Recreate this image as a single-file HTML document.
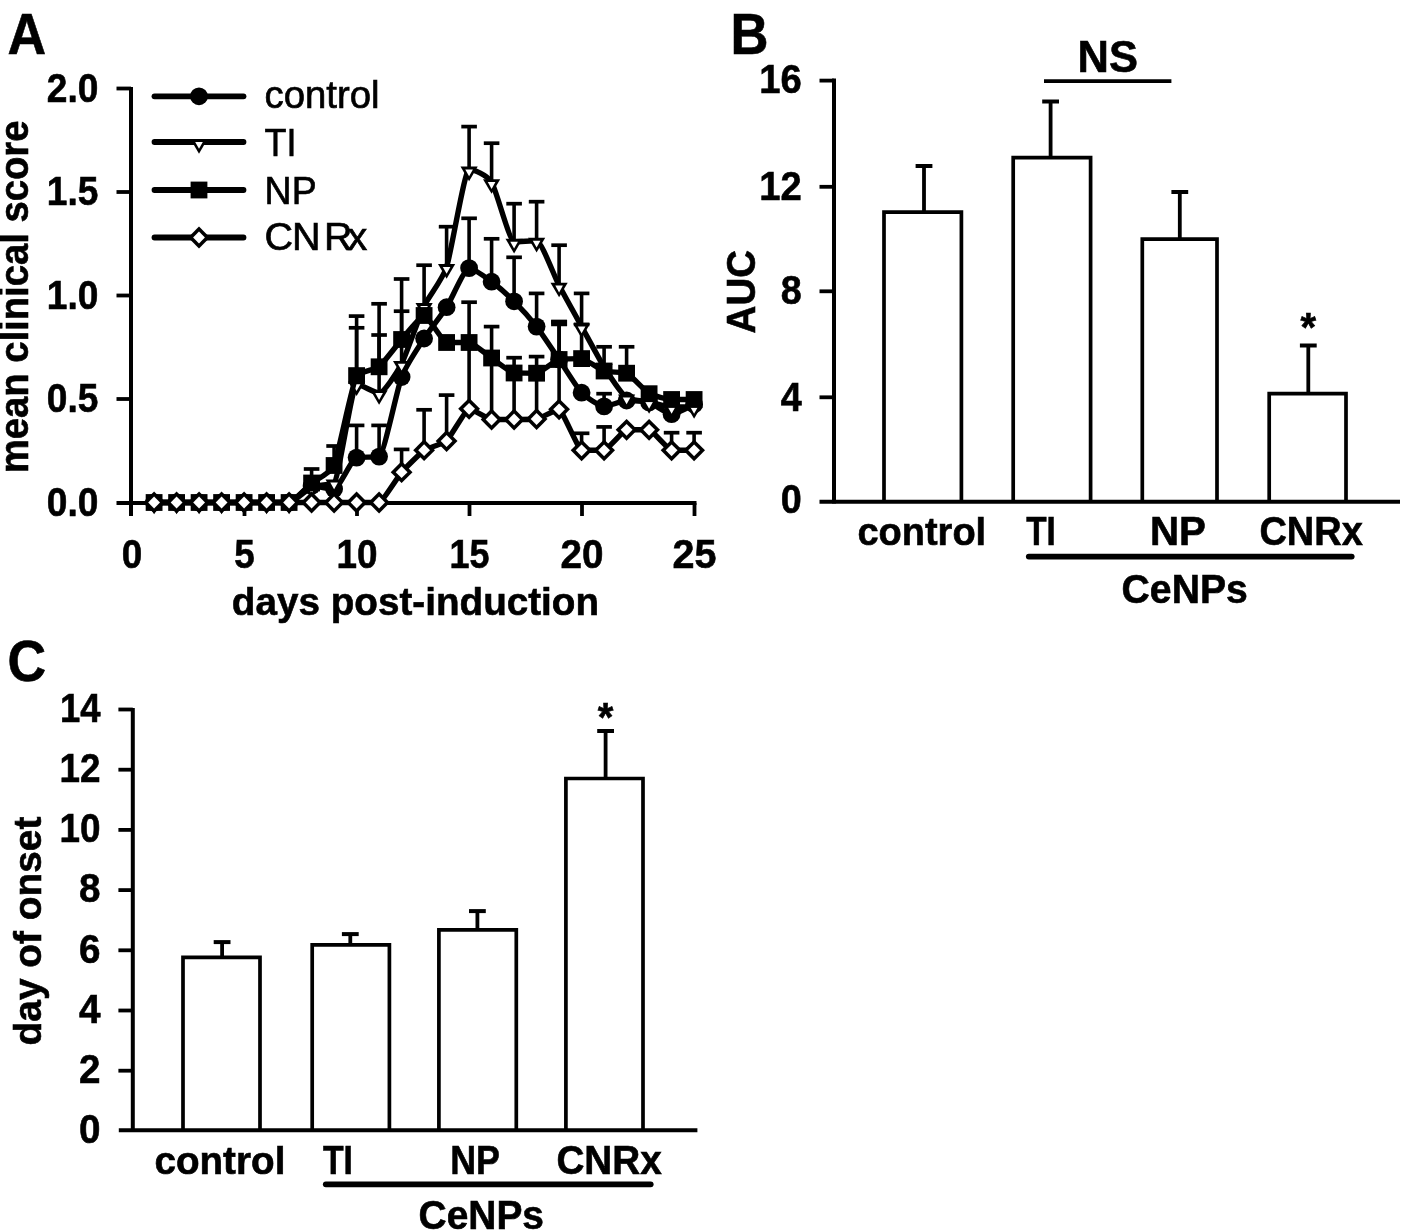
<!DOCTYPE html>
<html><head><meta charset="utf-8"><title>Figure</title>
<style>
html,body{margin:0;padding:0;background:#fff;}
body{width:1402px;height:1230px;overflow:hidden;font-family:'Liberation Sans', sans-serif;}
svg{display:block;font-family:"Liberation Sans",sans-serif;}
svg text{fill:#000;}
</style></head>
<body>
<svg width="1402" height="1230" viewBox="0 0 1402 1230">
<defs><filter id="soft" x="-2%" y="-2%" width="104%" height="104%"><feGaussianBlur stdDeviation="0.55"/></filter></defs>
<rect x="0" y="0" width="1402" height="1230" fill="#fff"/>
<g filter="url(#soft)">
<text x="7.6" y="54.0" font-size="57.5" text-anchor="start" font-weight="bold" stroke="#000" stroke-width="0.6" textLength="38.6" lengthAdjust="spacingAndGlyphs" >A</text>
<text x="730.6" y="54.0" font-size="57.5" text-anchor="start" font-weight="bold" stroke="#000" stroke-width="0.6" textLength="38.0" lengthAdjust="spacingAndGlyphs" >B</text>
<text x="7.6" y="681.3" font-size="56.5" text-anchor="start" font-weight="bold" stroke="#000" stroke-width="0.6" textLength="38.6" lengthAdjust="spacingAndGlyphs" >C</text>
<line x1="131.0" y1="87.0" x2="131.0" y2="516.0" stroke="#000" stroke-width="4" stroke-linecap="butt"/>
<line x1="116.5" y1="503.0" x2="696.5" y2="503.0" stroke="#000" stroke-width="4" stroke-linecap="butt"/>
<line x1="116.5" y1="399.0" x2="131.0" y2="399.0" stroke="#000" stroke-width="3.8" stroke-linecap="butt"/>
<line x1="116.5" y1="295.5" x2="131.0" y2="295.5" stroke="#000" stroke-width="3.8" stroke-linecap="butt"/>
<line x1="116.5" y1="192.0" x2="131.0" y2="192.0" stroke="#000" stroke-width="3.8" stroke-linecap="butt"/>
<line x1="116.5" y1="88.5" x2="131.0" y2="88.5" stroke="#000" stroke-width="3.8" stroke-linecap="butt"/>
<line x1="244.5" y1="503.0" x2="244.5" y2="516.0" stroke="#000" stroke-width="3.8" stroke-linecap="butt"/>
<line x1="357.0" y1="503.0" x2="357.0" y2="516.0" stroke="#000" stroke-width="3.8" stroke-linecap="butt"/>
<line x1="469.5" y1="503.0" x2="469.5" y2="516.0" stroke="#000" stroke-width="3.8" stroke-linecap="butt"/>
<line x1="582.0" y1="503.0" x2="582.0" y2="516.0" stroke="#000" stroke-width="3.8" stroke-linecap="butt"/>
<line x1="694.5" y1="503.0" x2="694.5" y2="516.0" stroke="#000" stroke-width="3.8" stroke-linecap="butt"/>
<text x="46.8" y="515.5" font-size="40.5" text-anchor="start" font-weight="bold" stroke="#000" stroke-width="0.6" textLength="51.6" lengthAdjust="spacingAndGlyphs" >0.0</text>
<text x="46.8" y="412.0" font-size="40.5" text-anchor="start" font-weight="bold" stroke="#000" stroke-width="0.6" textLength="51.6" lengthAdjust="spacingAndGlyphs" >0.5</text>
<text x="46.8" y="308.5" font-size="40.5" text-anchor="start" font-weight="bold" stroke="#000" stroke-width="0.6" textLength="51.6" lengthAdjust="spacingAndGlyphs" >1.0</text>
<text x="46.8" y="205.0" font-size="40.5" text-anchor="start" font-weight="bold" stroke="#000" stroke-width="0.6" textLength="51.6" lengthAdjust="spacingAndGlyphs" >1.5</text>
<text x="46.8" y="101.5" font-size="40.5" text-anchor="start" font-weight="bold" stroke="#000" stroke-width="0.6" textLength="51.6" lengthAdjust="spacingAndGlyphs" >2.0</text>
<text x="121.8" y="567.7" font-size="40.5" text-anchor="start" font-weight="bold" stroke="#000" stroke-width="0.6" textLength="20.5" lengthAdjust="spacingAndGlyphs" >0</text>
<text x="234.2" y="567.7" font-size="40.5" text-anchor="start" font-weight="bold" stroke="#000" stroke-width="0.6" textLength="20.5" lengthAdjust="spacingAndGlyphs" >5</text>
<text x="336.4" y="567.7" font-size="40.5" text-anchor="start" font-weight="bold" stroke="#000" stroke-width="0.6" textLength="41.0" lengthAdjust="spacingAndGlyphs" >10</text>
<text x="449.4" y="567.7" font-size="40.5" text-anchor="start" font-weight="bold" stroke="#000" stroke-width="0.6" textLength="40.0" lengthAdjust="spacingAndGlyphs" >15</text>
<text x="560.4" y="567.7" font-size="40.5" text-anchor="start" font-weight="bold" stroke="#000" stroke-width="0.6" textLength="43.0" lengthAdjust="spacingAndGlyphs" >20</text>
<text x="672.4" y="567.7" font-size="40.5" text-anchor="start" font-weight="bold" stroke="#000" stroke-width="0.6" textLength="44.0" lengthAdjust="spacingAndGlyphs" >25</text>
<text x="231.8" y="615.2" font-size="39.5" text-anchor="start" font-weight="bold" stroke="#000" stroke-width="0.6" textLength="367.3" lengthAdjust="spacingAndGlyphs" >days post-induction</text>
<text x="28.5" y="473.2" font-size="40" text-anchor="start" font-weight="bold" stroke="#000" stroke-width="0.6" textLength="352.6" lengthAdjust="spacingAndGlyphs" transform="rotate(-90 28.5 473.2)" >mean clinical score</text>
<line x1="154.5" y1="96.3" x2="243.5" y2="96.3" stroke="#000" stroke-width="5.8" stroke-linecap="round"/>
<circle cx="199.0" cy="96.3" r="8.9" fill="#000"/>
<text x="264.6" y="108.3" font-size="39.5" text-anchor="start" textLength="115.0" lengthAdjust="spacingAndGlyphs" stroke="#000" stroke-width="0.7">control</text>
<line x1="154.5" y1="142.0" x2="243.5" y2="142.0" stroke="#000" stroke-width="5.8" stroke-linecap="round"/>
<path d="M190.4 139.1 L207.6 139.1 L199.0 153.7 Z" fill="#000"/>
<path d="M195.2 142.0 L202.8 142.0 L199.0 148.8 Z" fill="#fff"/>
<text x="264.6" y="155.8" font-size="39.5" text-anchor="start" textLength="32.0" lengthAdjust="spacingAndGlyphs" stroke="#000" stroke-width="0.7">TI</text>
<line x1="154.5" y1="190.0" x2="243.5" y2="190.0" stroke="#000" stroke-width="5.8" stroke-linecap="round"/>
<rect x="190.6" y="181.6" width="16.8" height="16.8" fill="#000"/>
<text x="264.6" y="203.9" font-size="39.5" text-anchor="start" textLength="52.0" lengthAdjust="spacingAndGlyphs" stroke="#000" stroke-width="0.7">NP</text>
<line x1="154.5" y1="237.5" x2="243.5" y2="237.5" stroke="#000" stroke-width="5.8" stroke-linecap="round"/>
<path d="M188.1 237.5 L199.0 226.6 L209.9 237.5 L199.0 248.4 Z" fill="#000"/>
<path d="M193.1 237.5 L199.0 231.6 L204.9 237.5 L199.0 243.4 Z" fill="#fff"/>
<text x="264.4 292.0 324.0 347.4" y="249.6" font-size="39.5" stroke="#000" stroke-width="0.7">CNRx</text>
<line x1="356.6" y1="384.3" x2="356.6" y2="316.1" stroke="#000" stroke-width="3.6" stroke-linecap="butt"/>
<line x1="348.8" y1="316.1" x2="364.4" y2="316.1" stroke="#000" stroke-width="3.7" stroke-linecap="butt"/>
<line x1="379.1" y1="393.1" x2="379.1" y2="303.8" stroke="#000" stroke-width="3.6" stroke-linecap="butt"/>
<line x1="371.3" y1="303.8" x2="386.9" y2="303.8" stroke="#000" stroke-width="3.7" stroke-linecap="butt"/>
<line x1="401.6" y1="363.8" x2="401.6" y2="279.0" stroke="#000" stroke-width="3.6" stroke-linecap="butt"/>
<line x1="393.8" y1="279.0" x2="409.4" y2="279.0" stroke="#000" stroke-width="3.7" stroke-linecap="butt"/>
<line x1="424.1" y1="306.0" x2="424.1" y2="265.2" stroke="#000" stroke-width="3.6" stroke-linecap="butt"/>
<line x1="416.3" y1="265.2" x2="431.9" y2="265.2" stroke="#000" stroke-width="3.7" stroke-linecap="butt"/>
<line x1="446.6" y1="267.0" x2="446.6" y2="226.7" stroke="#000" stroke-width="3.6" stroke-linecap="butt"/>
<line x1="438.8" y1="226.7" x2="454.4" y2="226.7" stroke="#000" stroke-width="3.7" stroke-linecap="butt"/>
<line x1="469.1" y1="169.5" x2="469.1" y2="126.6" stroke="#000" stroke-width="3.6" stroke-linecap="butt"/>
<line x1="461.3" y1="126.6" x2="476.9" y2="126.6" stroke="#000" stroke-width="3.7" stroke-linecap="butt"/>
<line x1="491.6" y1="182.1" x2="491.6" y2="143.2" stroke="#000" stroke-width="3.6" stroke-linecap="butt"/>
<line x1="483.8" y1="143.2" x2="499.4" y2="143.2" stroke="#000" stroke-width="3.7" stroke-linecap="butt"/>
<line x1="514.1" y1="241.7" x2="514.1" y2="203.7" stroke="#000" stroke-width="3.6" stroke-linecap="butt"/>
<line x1="506.3" y1="203.7" x2="521.9" y2="203.7" stroke="#000" stroke-width="3.7" stroke-linecap="butt"/>
<line x1="536.6" y1="240.7" x2="536.6" y2="201.7" stroke="#000" stroke-width="3.6" stroke-linecap="butt"/>
<line x1="528.8" y1="201.7" x2="544.4" y2="201.7" stroke="#000" stroke-width="3.7" stroke-linecap="butt"/>
<line x1="559.1" y1="285.6" x2="559.1" y2="245.2" stroke="#000" stroke-width="3.6" stroke-linecap="butt"/>
<line x1="551.3" y1="245.2" x2="566.9" y2="245.2" stroke="#000" stroke-width="3.7" stroke-linecap="butt"/>
<line x1="581.6" y1="326.5" x2="581.6" y2="293.4" stroke="#000" stroke-width="3.6" stroke-linecap="butt"/>
<line x1="573.8" y1="293.4" x2="589.4" y2="293.4" stroke="#000" stroke-width="3.7" stroke-linecap="butt"/>
<line x1="356.6" y1="457.6" x2="356.6" y2="425.4" stroke="#000" stroke-width="3.6" stroke-linecap="butt"/>
<line x1="348.8" y1="425.4" x2="364.4" y2="425.4" stroke="#000" stroke-width="3.7" stroke-linecap="butt"/>
<line x1="379.1" y1="456.6" x2="379.1" y2="425.4" stroke="#000" stroke-width="3.6" stroke-linecap="butt"/>
<line x1="371.3" y1="425.4" x2="386.9" y2="425.4" stroke="#000" stroke-width="3.7" stroke-linecap="butt"/>
<line x1="469.1" y1="268.1" x2="469.1" y2="218.3" stroke="#000" stroke-width="3.6" stroke-linecap="butt"/>
<line x1="461.3" y1="218.3" x2="476.9" y2="218.3" stroke="#000" stroke-width="3.7" stroke-linecap="butt"/>
<line x1="491.6" y1="281.7" x2="491.6" y2="238.8" stroke="#000" stroke-width="3.6" stroke-linecap="butt"/>
<line x1="483.8" y1="238.8" x2="499.4" y2="238.8" stroke="#000" stroke-width="3.7" stroke-linecap="butt"/>
<line x1="514.1" y1="301.3" x2="514.1" y2="257.3" stroke="#000" stroke-width="3.6" stroke-linecap="butt"/>
<line x1="506.3" y1="257.3" x2="521.9" y2="257.3" stroke="#000" stroke-width="3.7" stroke-linecap="butt"/>
<line x1="536.6" y1="326.6" x2="536.6" y2="293.4" stroke="#000" stroke-width="3.6" stroke-linecap="butt"/>
<line x1="528.8" y1="293.4" x2="544.4" y2="293.4" stroke="#000" stroke-width="3.7" stroke-linecap="butt"/>
<line x1="559.1" y1="359.5" x2="559.1" y2="321.7" stroke="#000" stroke-width="3.6" stroke-linecap="butt"/>
<line x1="551.3" y1="321.7" x2="566.9" y2="321.7" stroke="#000" stroke-width="3.7" stroke-linecap="butt"/>
<line x1="604.1" y1="406.4" x2="604.1" y2="393.7" stroke="#000" stroke-width="3.6" stroke-linecap="butt"/>
<line x1="596.3" y1="393.7" x2="611.9" y2="393.7" stroke="#000" stroke-width="3.7" stroke-linecap="butt"/>
<line x1="311.6" y1="483.0" x2="311.6" y2="469.0" stroke="#000" stroke-width="3.6" stroke-linecap="butt"/>
<line x1="303.8" y1="469.0" x2="319.4" y2="469.0" stroke="#000" stroke-width="3.7" stroke-linecap="butt"/>
<line x1="334.1" y1="465.5" x2="334.1" y2="446.0" stroke="#000" stroke-width="3.6" stroke-linecap="butt"/>
<line x1="326.3" y1="446.0" x2="341.9" y2="446.0" stroke="#000" stroke-width="3.7" stroke-linecap="butt"/>
<line x1="356.6" y1="375.6" x2="356.6" y2="327.8" stroke="#000" stroke-width="3.6" stroke-linecap="butt"/>
<line x1="348.8" y1="327.8" x2="364.4" y2="327.8" stroke="#000" stroke-width="3.7" stroke-linecap="butt"/>
<line x1="379.1" y1="366.8" x2="379.1" y2="335.0" stroke="#000" stroke-width="3.6" stroke-linecap="butt"/>
<line x1="371.3" y1="335.0" x2="386.9" y2="335.0" stroke="#000" stroke-width="3.7" stroke-linecap="butt"/>
<line x1="401.6" y1="339.5" x2="401.6" y2="311.2" stroke="#000" stroke-width="3.6" stroke-linecap="butt"/>
<line x1="393.8" y1="311.2" x2="409.4" y2="311.2" stroke="#000" stroke-width="3.7" stroke-linecap="butt"/>
<line x1="469.1" y1="342.5" x2="469.1" y2="302.2" stroke="#000" stroke-width="3.6" stroke-linecap="butt"/>
<line x1="461.3" y1="302.2" x2="476.9" y2="302.2" stroke="#000" stroke-width="3.7" stroke-linecap="butt"/>
<line x1="491.6" y1="358.0" x2="491.6" y2="326.6" stroke="#000" stroke-width="3.6" stroke-linecap="butt"/>
<line x1="483.8" y1="326.6" x2="499.4" y2="326.6" stroke="#000" stroke-width="3.7" stroke-linecap="butt"/>
<line x1="514.1" y1="373.0" x2="514.1" y2="357.7" stroke="#000" stroke-width="3.6" stroke-linecap="butt"/>
<line x1="506.3" y1="357.7" x2="521.9" y2="357.7" stroke="#000" stroke-width="3.7" stroke-linecap="butt"/>
<line x1="536.6" y1="373.2" x2="536.6" y2="356.6" stroke="#000" stroke-width="3.6" stroke-linecap="butt"/>
<line x1="528.8" y1="356.6" x2="544.4" y2="356.6" stroke="#000" stroke-width="3.7" stroke-linecap="butt"/>
<line x1="559.1" y1="359.5" x2="559.1" y2="322.4" stroke="#000" stroke-width="3.6" stroke-linecap="butt"/>
<line x1="551.3" y1="322.4" x2="566.9" y2="322.4" stroke="#000" stroke-width="3.7" stroke-linecap="butt"/>
<line x1="581.6" y1="358.6" x2="581.6" y2="324.4" stroke="#000" stroke-width="3.6" stroke-linecap="butt"/>
<line x1="573.8" y1="324.4" x2="589.4" y2="324.4" stroke="#000" stroke-width="3.7" stroke-linecap="butt"/>
<line x1="604.1" y1="371.0" x2="604.1" y2="346.8" stroke="#000" stroke-width="3.6" stroke-linecap="butt"/>
<line x1="596.3" y1="346.8" x2="611.9" y2="346.8" stroke="#000" stroke-width="3.7" stroke-linecap="butt"/>
<line x1="626.6" y1="373.2" x2="626.6" y2="346.8" stroke="#000" stroke-width="3.6" stroke-linecap="butt"/>
<line x1="618.8" y1="346.8" x2="634.4" y2="346.8" stroke="#000" stroke-width="3.7" stroke-linecap="butt"/>
<line x1="401.6" y1="472.2" x2="401.6" y2="449.4" stroke="#000" stroke-width="3.6" stroke-linecap="butt"/>
<line x1="393.8" y1="449.4" x2="409.4" y2="449.4" stroke="#000" stroke-width="3.7" stroke-linecap="butt"/>
<line x1="424.1" y1="450.2" x2="424.1" y2="409.8" stroke="#000" stroke-width="3.6" stroke-linecap="butt"/>
<line x1="416.3" y1="409.8" x2="431.9" y2="409.8" stroke="#000" stroke-width="3.7" stroke-linecap="butt"/>
<line x1="446.6" y1="441.0" x2="446.6" y2="395.1" stroke="#000" stroke-width="3.6" stroke-linecap="butt"/>
<line x1="438.8" y1="395.1" x2="454.4" y2="395.1" stroke="#000" stroke-width="3.7" stroke-linecap="butt"/>
<line x1="469.1" y1="408.8" x2="469.1" y2="345.0" stroke="#000" stroke-width="3.6" stroke-linecap="butt"/>
<line x1="491.6" y1="419.5" x2="491.6" y2="360.0" stroke="#000" stroke-width="3.6" stroke-linecap="butt"/>
<line x1="514.1" y1="419.5" x2="514.1" y2="375.0" stroke="#000" stroke-width="3.6" stroke-linecap="butt"/>
<line x1="536.6" y1="419.0" x2="536.6" y2="375.0" stroke="#000" stroke-width="3.6" stroke-linecap="butt"/>
<line x1="559.1" y1="409.3" x2="559.1" y2="360.0" stroke="#000" stroke-width="3.6" stroke-linecap="butt"/>
<line x1="581.6" y1="450.3" x2="581.6" y2="433.3" stroke="#000" stroke-width="3.6" stroke-linecap="butt"/>
<line x1="573.8" y1="433.3" x2="589.4" y2="433.3" stroke="#000" stroke-width="3.7" stroke-linecap="butt"/>
<line x1="604.1" y1="450.3" x2="604.1" y2="426.9" stroke="#000" stroke-width="3.6" stroke-linecap="butt"/>
<line x1="596.3" y1="426.9" x2="611.9" y2="426.9" stroke="#000" stroke-width="3.7" stroke-linecap="butt"/>
<line x1="671.6" y1="450.3" x2="671.6" y2="432.7" stroke="#000" stroke-width="3.6" stroke-linecap="butt"/>
<line x1="663.8" y1="432.7" x2="679.4" y2="432.7" stroke="#000" stroke-width="3.7" stroke-linecap="butt"/>
<line x1="694.1" y1="450.3" x2="694.1" y2="432.7" stroke="#000" stroke-width="3.6" stroke-linecap="butt"/>
<line x1="686.3" y1="432.7" x2="701.9" y2="432.7" stroke="#000" stroke-width="3.7" stroke-linecap="butt"/>
<line x1="551.1" y1="323.0" x2="567.1" y2="323.0" stroke="#000" stroke-width="6.5" stroke-linecap="butt"/>
<path d="M154.1 502.5 C156.3 502.5 172.1 502.5 176.6 502.5 C181.1 502.5 194.6 502.5 199.1 502.5 C203.6 502.5 217.1 502.5 221.6 502.5 C226.1 502.5 239.6 502.5 244.1 502.5 C248.6 502.5 262.1 502.5 266.6 502.5 C271.1 502.5 284.6 502.5 289.1 502.5 C293.6 502.5 307.1 486.0 311.6 486.0 C316.1 486.0 329.6 489.0 334.1 489.0 C338.6 489.0 352.1 458.2 356.6 457.6 C361.1 457.0 374.6 457.2 379.1 456.6 C383.6 456.0 397.1 388.8 401.6 377.0 C406.1 365.2 419.6 345.5 424.1 338.5 C428.6 331.5 442.1 314.2 446.6 307.2 C451.1 300.2 464.6 268.1 469.1 268.1 C473.6 268.1 487.1 278.4 491.6 281.7 C496.1 285.0 509.6 296.8 514.1 301.3 C518.6 305.8 532.1 320.8 536.6 326.6 C541.1 332.4 554.6 352.9 559.1 359.5 C563.6 366.1 577.1 388.0 581.6 392.7 C586.1 397.4 599.6 406.4 604.1 406.4 C608.6 406.4 622.1 400.5 626.6 400.5 C631.1 400.5 644.6 401.3 649.1 402.5 C653.6 403.7 667.1 414.2 671.6 414.2 C676.1 414.2 691.9 405.4 694.1 404.4" fill="none" stroke="#000" stroke-width="5.4" stroke-linejoin="round" stroke-linecap="round"/>
<circle cx="154.1" cy="502.5" r="8.9" fill="#000"/>
<circle cx="176.6" cy="502.5" r="8.9" fill="#000"/>
<circle cx="199.1" cy="502.5" r="8.9" fill="#000"/>
<circle cx="221.6" cy="502.5" r="8.9" fill="#000"/>
<circle cx="244.1" cy="502.5" r="8.9" fill="#000"/>
<circle cx="266.6" cy="502.5" r="8.9" fill="#000"/>
<circle cx="289.1" cy="502.5" r="8.9" fill="#000"/>
<circle cx="311.6" cy="486.0" r="8.9" fill="#000"/>
<circle cx="334.1" cy="489.0" r="8.9" fill="#000"/>
<circle cx="356.6" cy="457.6" r="8.9" fill="#000"/>
<circle cx="379.1" cy="456.6" r="8.9" fill="#000"/>
<circle cx="401.6" cy="377.0" r="8.9" fill="#000"/>
<circle cx="424.1" cy="338.5" r="8.9" fill="#000"/>
<circle cx="446.6" cy="307.2" r="8.9" fill="#000"/>
<circle cx="469.1" cy="268.1" r="8.9" fill="#000"/>
<circle cx="491.6" cy="281.7" r="8.9" fill="#000"/>
<circle cx="514.1" cy="301.3" r="8.9" fill="#000"/>
<circle cx="536.6" cy="326.6" r="8.9" fill="#000"/>
<circle cx="559.1" cy="359.5" r="8.9" fill="#000"/>
<circle cx="581.6" cy="392.7" r="8.9" fill="#000"/>
<circle cx="604.1" cy="406.4" r="8.9" fill="#000"/>
<circle cx="626.6" cy="400.5" r="8.9" fill="#000"/>
<circle cx="649.1" cy="402.5" r="8.9" fill="#000"/>
<circle cx="671.6" cy="414.2" r="8.9" fill="#000"/>
<circle cx="694.1" cy="404.4" r="8.9" fill="#000"/>
<path d="M154.1 502.5 C156.3 502.5 172.1 502.5 176.6 502.5 C181.1 502.5 194.6 502.5 199.1 502.5 C203.6 502.5 217.1 502.5 221.6 502.5 C226.1 502.5 239.6 502.5 244.1 502.5 C248.6 502.5 262.1 502.5 266.6 502.5 C271.1 502.5 284.6 502.5 289.1 502.5 C293.6 502.5 307.1 489.0 311.6 487.0 C316.1 485.0 329.6 485.2 334.1 482.5 C338.6 479.8 352.1 384.3 356.6 384.3 C361.1 384.3 374.6 393.1 379.1 393.1 C383.6 393.1 397.1 372.5 401.6 363.8 C406.1 355.1 419.6 315.7 424.1 306.0 C428.6 296.3 442.1 280.6 446.6 267.0 C451.1 253.3 464.6 169.5 469.1 169.5 C473.6 169.5 487.1 174.9 491.6 182.1 C496.1 189.3 509.6 241.7 514.1 241.7 C518.6 241.7 532.1 240.7 536.6 240.7 C541.1 240.7 554.6 277.0 559.1 285.6 C563.6 294.2 577.1 318.4 581.6 326.5 C586.1 334.6 599.6 359.9 604.1 367.0 C608.6 374.1 622.1 394.8 626.6 397.5 C631.1 400.2 644.6 401.1 649.1 402.0 C653.6 402.9 667.1 407.0 671.6 407.0 C676.1 407.0 691.9 407.0 694.1 407.0" fill="none" stroke="#000" stroke-width="5.4" stroke-linejoin="round" stroke-linecap="round"/>
<path d="M145.5 499.6 L162.7 499.6 L154.1 514.2 Z" fill="#000"/>
<path d="M150.3 502.5 L157.9 502.5 L154.1 509.3 Z" fill="#fff"/>
<path d="M168.0 499.6 L185.2 499.6 L176.6 514.2 Z" fill="#000"/>
<path d="M172.8 502.5 L180.4 502.5 L176.6 509.3 Z" fill="#fff"/>
<path d="M190.5 499.6 L207.7 499.6 L199.1 514.2 Z" fill="#000"/>
<path d="M195.3 502.5 L202.9 502.5 L199.1 509.3 Z" fill="#fff"/>
<path d="M213.0 499.6 L230.2 499.6 L221.6 514.2 Z" fill="#000"/>
<path d="M217.8 502.5 L225.4 502.5 L221.6 509.3 Z" fill="#fff"/>
<path d="M235.5 499.6 L252.7 499.6 L244.1 514.2 Z" fill="#000"/>
<path d="M240.3 502.5 L247.9 502.5 L244.1 509.3 Z" fill="#fff"/>
<path d="M258.0 499.6 L275.2 499.6 L266.6 514.2 Z" fill="#000"/>
<path d="M262.8 502.5 L270.4 502.5 L266.6 509.3 Z" fill="#fff"/>
<path d="M280.5 499.6 L297.7 499.6 L289.1 514.2 Z" fill="#000"/>
<path d="M285.3 502.5 L292.9 502.5 L289.1 509.3 Z" fill="#fff"/>
<path d="M303.0 484.1 L320.2 484.1 L311.6 498.7 Z" fill="#000"/>
<path d="M307.8 487.0 L315.4 487.0 L311.6 493.8 Z" fill="#fff"/>
<path d="M325.5 479.6 L342.7 479.6 L334.1 494.2 Z" fill="#000"/>
<path d="M330.3 482.5 L337.9 482.5 L334.1 489.3 Z" fill="#fff"/>
<path d="M348.0 381.4 L365.2 381.4 L356.6 396.0 Z" fill="#000"/>
<path d="M352.8 384.3 L360.4 384.3 L356.6 391.1 Z" fill="#fff"/>
<path d="M370.5 390.2 L387.7 390.2 L379.1 404.8 Z" fill="#000"/>
<path d="M375.3 393.1 L382.9 393.1 L379.1 399.9 Z" fill="#fff"/>
<path d="M393.0 360.9 L410.2 360.9 L401.6 375.5 Z" fill="#000"/>
<path d="M397.8 363.8 L405.4 363.8 L401.6 370.6 Z" fill="#fff"/>
<path d="M415.5 303.1 L432.7 303.1 L424.1 317.7 Z" fill="#000"/>
<path d="M420.3 306.0 L427.9 306.0 L424.1 312.8 Z" fill="#fff"/>
<path d="M438.0 264.1 L455.2 264.1 L446.6 278.7 Z" fill="#000"/>
<path d="M442.8 267.0 L450.4 267.0 L446.6 273.8 Z" fill="#fff"/>
<path d="M460.5 166.6 L477.7 166.6 L469.1 181.2 Z" fill="#000"/>
<path d="M465.3 169.5 L472.9 169.5 L469.1 176.3 Z" fill="#fff"/>
<path d="M483.0 179.2 L500.2 179.2 L491.6 193.8 Z" fill="#000"/>
<path d="M487.8 182.1 L495.4 182.1 L491.6 188.9 Z" fill="#fff"/>
<path d="M505.5 238.8 L522.7 238.8 L514.1 253.4 Z" fill="#000"/>
<path d="M510.3 241.7 L517.9 241.7 L514.1 248.5 Z" fill="#fff"/>
<path d="M528.0 237.8 L545.2 237.8 L536.6 252.4 Z" fill="#000"/>
<path d="M532.8 240.7 L540.4 240.7 L536.6 247.5 Z" fill="#fff"/>
<path d="M550.5 282.7 L567.7 282.7 L559.1 297.3 Z" fill="#000"/>
<path d="M555.3 285.6 L562.9 285.6 L559.1 292.4 Z" fill="#fff"/>
<path d="M573.0 323.6 L590.2 323.6 L581.6 338.2 Z" fill="#000"/>
<path d="M577.8 326.5 L585.4 326.5 L581.6 333.3 Z" fill="#fff"/>
<path d="M595.5 364.1 L612.7 364.1 L604.1 378.7 Z" fill="#000"/>
<path d="M600.3 367.0 L607.9 367.0 L604.1 373.8 Z" fill="#fff"/>
<path d="M618.0 394.6 L635.2 394.6 L626.6 409.2 Z" fill="#000"/>
<path d="M622.8 397.5 L630.4 397.5 L626.6 404.3 Z" fill="#fff"/>
<path d="M640.5 399.1 L657.7 399.1 L649.1 413.7 Z" fill="#000"/>
<path d="M645.3 402.0 L652.9 402.0 L649.1 408.8 Z" fill="#fff"/>
<path d="M663.0 404.1 L680.2 404.1 L671.6 418.7 Z" fill="#000"/>
<path d="M667.8 407.0 L675.4 407.0 L671.6 413.8 Z" fill="#fff"/>
<path d="M685.5 404.1 L702.7 404.1 L694.1 418.7 Z" fill="#000"/>
<path d="M690.3 407.0 L697.9 407.0 L694.1 413.8 Z" fill="#fff"/>
<path d="M154.1 502.5 C155.8 502.5 173.3 502.5 176.6 502.5 C179.9 502.5 195.8 502.5 199.1 502.5 C202.4 502.5 218.3 502.5 221.6 502.5 C224.9 502.5 240.8 502.5 244.1 502.5 C247.4 502.5 263.3 502.5 266.6 502.5 C269.9 502.5 285.8 502.5 289.1 502.5 C292.4 502.5 308.3 485.7 311.6 483.0 C314.9 480.3 330.8 473.2 334.1 465.5 C337.4 457.8 353.3 379.5 356.6 375.6 C359.9 371.7 375.8 369.4 379.1 366.8 C382.4 364.2 398.3 343.3 401.6 339.5 C404.9 335.7 420.8 315.5 424.1 315.5 C427.4 315.5 443.3 342.5 446.6 342.5 C449.9 342.5 465.8 342.5 469.1 342.5 C472.4 342.5 488.3 355.8 491.6 358.0 C494.9 360.2 510.8 372.9 514.1 373.0 C517.4 373.1 533.3 373.2 536.6 373.2 C539.9 373.2 555.8 359.9 559.1 359.5 C562.4 359.1 578.3 358.6 581.6 358.6 C584.9 358.6 600.8 370.0 604.1 371.0 C607.4 372.0 623.3 372.2 626.6 373.2 C629.9 374.2 645.8 391.8 649.1 393.7 C652.4 395.6 668.3 399.5 671.6 399.5 C674.9 399.5 692.5 399.5 694.1 399.5" fill="none" stroke="#000" stroke-width="5.4" stroke-linejoin="round" stroke-linecap="round"/>
<rect x="145.7" y="494.1" width="16.8" height="16.8" fill="#000"/>
<rect x="168.2" y="494.1" width="16.8" height="16.8" fill="#000"/>
<rect x="190.7" y="494.1" width="16.8" height="16.8" fill="#000"/>
<rect x="213.2" y="494.1" width="16.8" height="16.8" fill="#000"/>
<rect x="235.7" y="494.1" width="16.8" height="16.8" fill="#000"/>
<rect x="258.2" y="494.1" width="16.8" height="16.8" fill="#000"/>
<rect x="280.7" y="494.1" width="16.8" height="16.8" fill="#000"/>
<rect x="303.2" y="474.6" width="16.8" height="16.8" fill="#000"/>
<rect x="325.7" y="457.1" width="16.8" height="16.8" fill="#000"/>
<rect x="348.2" y="367.2" width="16.8" height="16.8" fill="#000"/>
<rect x="370.7" y="358.4" width="16.8" height="16.8" fill="#000"/>
<rect x="393.2" y="331.1" width="16.8" height="16.8" fill="#000"/>
<rect x="415.7" y="307.1" width="16.8" height="16.8" fill="#000"/>
<rect x="438.2" y="334.1" width="16.8" height="16.8" fill="#000"/>
<rect x="460.7" y="334.1" width="16.8" height="16.8" fill="#000"/>
<rect x="483.2" y="349.6" width="16.8" height="16.8" fill="#000"/>
<rect x="505.7" y="364.6" width="16.8" height="16.8" fill="#000"/>
<rect x="528.2" y="364.8" width="16.8" height="16.8" fill="#000"/>
<rect x="550.7" y="351.1" width="16.8" height="16.8" fill="#000"/>
<rect x="573.2" y="350.2" width="16.8" height="16.8" fill="#000"/>
<rect x="595.7" y="362.6" width="16.8" height="16.8" fill="#000"/>
<rect x="618.2" y="364.8" width="16.8" height="16.8" fill="#000"/>
<rect x="640.7" y="385.3" width="16.8" height="16.8" fill="#000"/>
<rect x="663.2" y="391.1" width="16.8" height="16.8" fill="#000"/>
<rect x="685.7" y="391.1" width="16.8" height="16.8" fill="#000"/>
<path d="M154.1 502.5 C155.4 502.5 173.9 502.5 176.6 502.5 C179.3 502.5 196.4 502.5 199.1 502.5 C201.8 502.5 218.9 502.5 221.6 502.5 C224.3 502.5 241.4 502.5 244.1 502.5 C246.8 502.5 263.9 502.5 266.6 502.5 C269.3 502.5 286.4 502.5 289.1 502.5 C291.8 502.5 308.9 502.5 311.6 502.5 C314.3 502.5 331.4 502.5 334.1 502.5 C336.8 502.5 353.9 502.5 356.6 502.5 C359.3 502.5 376.4 502.5 379.1 502.5 C381.8 502.5 398.9 475.3 401.6 472.2 C404.3 469.1 421.4 452.1 424.1 450.2 C426.8 448.3 443.9 443.5 446.6 441.0 C449.3 438.5 466.4 408.8 469.1 408.8 C471.8 408.8 488.9 419.5 491.6 419.5 C494.3 419.5 511.4 419.5 514.1 419.5 C516.8 419.5 533.9 419.2 536.6 419.0 C539.3 418.8 556.4 409.3 559.1 409.3 C561.8 409.3 578.9 450.3 581.6 450.3 C584.3 450.3 601.4 450.3 604.1 450.3 C606.8 450.3 623.9 429.8 626.6 429.8 C629.3 429.8 646.4 429.8 649.1 429.8 C651.8 429.8 668.9 450.3 671.6 450.3 C674.3 450.3 692.8 450.3 694.1 450.3" fill="none" stroke="#000" stroke-width="5.4" stroke-linejoin="round" stroke-linecap="round"/>
<path d="M143.2 502.5 L154.1 491.6 L165.0 502.5 L154.1 513.4 Z" fill="#000"/>
<path d="M148.2 502.5 L154.1 496.6 L160.0 502.5 L154.1 508.4 Z" fill="#fff"/>
<path d="M165.7 502.5 L176.6 491.6 L187.5 502.5 L176.6 513.4 Z" fill="#000"/>
<path d="M170.7 502.5 L176.6 496.6 L182.5 502.5 L176.6 508.4 Z" fill="#fff"/>
<path d="M188.2 502.5 L199.1 491.6 L210.0 502.5 L199.1 513.4 Z" fill="#000"/>
<path d="M193.2 502.5 L199.1 496.6 L205.0 502.5 L199.1 508.4 Z" fill="#fff"/>
<path d="M210.7 502.5 L221.6 491.6 L232.5 502.5 L221.6 513.4 Z" fill="#000"/>
<path d="M215.7 502.5 L221.6 496.6 L227.5 502.5 L221.6 508.4 Z" fill="#fff"/>
<path d="M233.2 502.5 L244.1 491.6 L255.0 502.5 L244.1 513.4 Z" fill="#000"/>
<path d="M238.2 502.5 L244.1 496.6 L250.0 502.5 L244.1 508.4 Z" fill="#fff"/>
<path d="M255.7 502.5 L266.6 491.6 L277.5 502.5 L266.6 513.4 Z" fill="#000"/>
<path d="M260.7 502.5 L266.6 496.6 L272.5 502.5 L266.6 508.4 Z" fill="#fff"/>
<path d="M278.2 502.5 L289.1 491.6 L300.0 502.5 L289.1 513.4 Z" fill="#000"/>
<path d="M283.2 502.5 L289.1 496.6 L295.0 502.5 L289.1 508.4 Z" fill="#fff"/>
<path d="M300.7 502.5 L311.6 491.6 L322.5 502.5 L311.6 513.4 Z" fill="#000"/>
<path d="M305.7 502.5 L311.6 496.6 L317.5 502.5 L311.6 508.4 Z" fill="#fff"/>
<path d="M323.2 502.5 L334.1 491.6 L345.0 502.5 L334.1 513.4 Z" fill="#000"/>
<path d="M328.2 502.5 L334.1 496.6 L340.0 502.5 L334.1 508.4 Z" fill="#fff"/>
<path d="M345.7 502.5 L356.6 491.6 L367.5 502.5 L356.6 513.4 Z" fill="#000"/>
<path d="M350.7 502.5 L356.6 496.6 L362.5 502.5 L356.6 508.4 Z" fill="#fff"/>
<path d="M368.2 502.5 L379.1 491.6 L390.0 502.5 L379.1 513.4 Z" fill="#000"/>
<path d="M373.2 502.5 L379.1 496.6 L385.0 502.5 L379.1 508.4 Z" fill="#fff"/>
<path d="M390.7 472.2 L401.6 461.3 L412.5 472.2 L401.6 483.1 Z" fill="#000"/>
<path d="M395.7 472.2 L401.6 466.3 L407.5 472.2 L401.6 478.1 Z" fill="#fff"/>
<path d="M413.2 450.2 L424.1 439.3 L435.0 450.2 L424.1 461.1 Z" fill="#000"/>
<path d="M418.2 450.2 L424.1 444.3 L430.0 450.2 L424.1 456.1 Z" fill="#fff"/>
<path d="M435.7 441.0 L446.6 430.1 L457.5 441.0 L446.6 451.9 Z" fill="#000"/>
<path d="M440.7 441.0 L446.6 435.1 L452.5 441.0 L446.6 446.9 Z" fill="#fff"/>
<path d="M458.2 408.8 L469.1 397.9 L480.0 408.8 L469.1 419.7 Z" fill="#000"/>
<path d="M463.2 408.8 L469.1 402.9 L475.0 408.8 L469.1 414.7 Z" fill="#fff"/>
<path d="M480.7 419.5 L491.6 408.6 L502.5 419.5 L491.6 430.4 Z" fill="#000"/>
<path d="M485.7 419.5 L491.6 413.6 L497.5 419.5 L491.6 425.4 Z" fill="#fff"/>
<path d="M503.2 419.5 L514.1 408.6 L525.0 419.5 L514.1 430.4 Z" fill="#000"/>
<path d="M508.2 419.5 L514.1 413.6 L520.0 419.5 L514.1 425.4 Z" fill="#fff"/>
<path d="M525.7 419.0 L536.6 408.1 L547.5 419.0 L536.6 429.9 Z" fill="#000"/>
<path d="M530.7 419.0 L536.6 413.1 L542.5 419.0 L536.6 424.9 Z" fill="#fff"/>
<path d="M548.2 409.3 L559.1 398.4 L570.0 409.3 L559.1 420.2 Z" fill="#000"/>
<path d="M553.2 409.3 L559.1 403.4 L565.0 409.3 L559.1 415.2 Z" fill="#fff"/>
<path d="M570.7 450.3 L581.6 439.4 L592.5 450.3 L581.6 461.2 Z" fill="#000"/>
<path d="M575.7 450.3 L581.6 444.4 L587.5 450.3 L581.6 456.2 Z" fill="#fff"/>
<path d="M593.2 450.3 L604.1 439.4 L615.0 450.3 L604.1 461.2 Z" fill="#000"/>
<path d="M598.2 450.3 L604.1 444.4 L610.0 450.3 L604.1 456.2 Z" fill="#fff"/>
<path d="M615.7 429.8 L626.6 418.9 L637.5 429.8 L626.6 440.7 Z" fill="#000"/>
<path d="M620.7 429.8 L626.6 423.9 L632.5 429.8 L626.6 435.7 Z" fill="#fff"/>
<path d="M638.2 429.8 L649.1 418.9 L660.0 429.8 L649.1 440.7 Z" fill="#000"/>
<path d="M643.2 429.8 L649.1 423.9 L655.0 429.8 L649.1 435.7 Z" fill="#fff"/>
<path d="M660.7 450.3 L671.6 439.4 L682.5 450.3 L671.6 461.2 Z" fill="#000"/>
<path d="M665.7 450.3 L671.6 444.4 L677.5 450.3 L671.6 456.2 Z" fill="#fff"/>
<path d="M683.2 450.3 L694.1 439.4 L705.0 450.3 L694.1 461.2 Z" fill="#000"/>
<path d="M688.2 450.3 L694.1 444.4 L700.0 450.3 L694.1 456.2 Z" fill="#fff"/>
<line x1="834.0" y1="78.6" x2="834.0" y2="503.6" stroke="#000" stroke-width="4" stroke-linecap="butt"/>
<line x1="819.5" y1="501.7" x2="1400.0" y2="501.7" stroke="#000" stroke-width="4" stroke-linecap="butt"/>
<line x1="819.5" y1="397.3" x2="834.0" y2="397.3" stroke="#000" stroke-width="3.8" stroke-linecap="butt"/>
<line x1="819.5" y1="291.3" x2="834.0" y2="291.3" stroke="#000" stroke-width="3.8" stroke-linecap="butt"/>
<line x1="819.5" y1="186.8" x2="834.0" y2="186.8" stroke="#000" stroke-width="3.8" stroke-linecap="butt"/>
<line x1="819.5" y1="80.6" x2="834.0" y2="80.6" stroke="#000" stroke-width="3.8" stroke-linecap="butt"/>
<text x="780.7" y="513.1" font-size="40.5" text-anchor="start" font-weight="bold" stroke="#000" stroke-width="0.6" textLength="21.0" lengthAdjust="spacingAndGlyphs" >0</text>
<text x="780.7" y="410.9" font-size="40.5" text-anchor="start" font-weight="bold" stroke="#000" stroke-width="0.6" textLength="21.0" lengthAdjust="spacingAndGlyphs" >4</text>
<text x="780.7" y="303.9" font-size="40.5" text-anchor="start" font-weight="bold" stroke="#000" stroke-width="0.6" textLength="21.0" lengthAdjust="spacingAndGlyphs" >8</text>
<text x="759.2" y="200.4" font-size="40.5" text-anchor="start" font-weight="bold" stroke="#000" stroke-width="0.6" textLength="42.5" lengthAdjust="spacingAndGlyphs" >12</text>
<text x="759.2" y="93.2" font-size="40.5" text-anchor="start" font-weight="bold" stroke="#000" stroke-width="0.6" textLength="42.5" lengthAdjust="spacingAndGlyphs" >16</text>
<text x="755.2" y="333.4" font-size="40.5" text-anchor="start" font-weight="bold" stroke="#000" stroke-width="0.6" textLength="83.4" lengthAdjust="spacingAndGlyphs" transform="rotate(-90 755.2 333.4)" >AUC</text>
<path d="M884.0 501.5 L884.0 212.2 L961.4 212.2 L961.4 501.5" fill="none" stroke="#000" stroke-width="3.7" stroke-linejoin="miter"/>
<line x1="924.0" y1="212.2" x2="924.0" y2="166.0" stroke="#000" stroke-width="3.8" stroke-linecap="butt"/>
<line x1="915.6" y1="166.0" x2="932.4" y2="166.0" stroke="#000" stroke-width="4.0" stroke-linecap="butt"/>
<path d="M1013.2 501.5 L1013.2 157.7 L1090.6 157.7 L1090.6 501.5" fill="none" stroke="#000" stroke-width="3.7" stroke-linejoin="miter"/>
<line x1="1050.6" y1="157.7" x2="1050.6" y2="101.5" stroke="#000" stroke-width="3.8" stroke-linecap="butt"/>
<line x1="1042.2" y1="101.5" x2="1059.0" y2="101.5" stroke="#000" stroke-width="4.0" stroke-linecap="butt"/>
<path d="M1142.3 501.5 L1142.3 239.2 L1217.0 239.2 L1217.0 501.5" fill="none" stroke="#000" stroke-width="3.7" stroke-linejoin="miter"/>
<line x1="1179.8" y1="239.2" x2="1179.8" y2="192.0" stroke="#000" stroke-width="3.8" stroke-linecap="butt"/>
<line x1="1171.4" y1="192.0" x2="1188.2" y2="192.0" stroke="#000" stroke-width="4.0" stroke-linecap="butt"/>
<path d="M1269.2 501.5 L1269.2 393.6 L1346.0 393.6 L1346.0 501.5" fill="none" stroke="#000" stroke-width="3.7" stroke-linejoin="miter"/>
<line x1="1308.3" y1="393.6" x2="1308.3" y2="345.5" stroke="#000" stroke-width="3.8" stroke-linecap="butt"/>
<line x1="1299.9" y1="345.5" x2="1316.7" y2="345.5" stroke="#000" stroke-width="4.0" stroke-linecap="butt"/>
<line x1="1044.0" y1="81.2" x2="1171.4" y2="81.2" stroke="#000" stroke-width="3.8" stroke-linecap="butt"/>
<text x="1077.6" y="72.0" font-size="43.5" text-anchor="start" font-weight="bold" stroke="#000" stroke-width="0.6" textLength="60.4" lengthAdjust="spacingAndGlyphs" >NS</text>
<text x="1308.3" y="341.0" font-size="40" text-anchor="middle" font-weight="bold" stroke="#000" stroke-width="0.6" >*</text>
<text x="857.4" y="545.2" font-size="39.5" text-anchor="start" font-weight="bold" stroke="#000" stroke-width="0.6" textLength="128.8" lengthAdjust="spacingAndGlyphs" >control</text>
<text x="1026.2" y="545.2" font-size="40.5" text-anchor="start" font-weight="bold" stroke="#000" stroke-width="0.6" textLength="29.6" lengthAdjust="spacingAndGlyphs" >TI</text>
<text x="1150.0" y="545.2" font-size="40.5" text-anchor="start" font-weight="bold" stroke="#000" stroke-width="0.6" textLength="56.0" lengthAdjust="spacingAndGlyphs" >NP</text>
<text x="1259.4" y="545.2" font-size="40.5" text-anchor="start" font-weight="bold" stroke="#000" stroke-width="0.6" textLength="103.4" lengthAdjust="spacingAndGlyphs" >CNRx</text>
<line x1="1028.8" y1="556.6" x2="1351.7" y2="556.6" stroke="#000" stroke-width="5.8" stroke-linecap="round"/>
<text x="1121.6" y="603.2" font-size="40.5" text-anchor="start" font-weight="bold" stroke="#000" stroke-width="0.6" textLength="126.2" lengthAdjust="spacingAndGlyphs" >CeNPs</text>
<line x1="132.8" y1="708.0" x2="132.8" y2="1132.0" stroke="#000" stroke-width="4" stroke-linecap="butt"/>
<line x1="118.8" y1="1130.2" x2="697.4" y2="1130.2" stroke="#000" stroke-width="4" stroke-linecap="butt"/>
<line x1="118.4" y1="1070.7" x2="132.8" y2="1070.7" stroke="#000" stroke-width="3.8" stroke-linecap="butt"/>
<line x1="118.4" y1="1010.5" x2="132.8" y2="1010.5" stroke="#000" stroke-width="3.8" stroke-linecap="butt"/>
<line x1="118.4" y1="950.3" x2="132.8" y2="950.3" stroke="#000" stroke-width="3.8" stroke-linecap="butt"/>
<line x1="118.4" y1="890.1" x2="132.8" y2="890.1" stroke="#000" stroke-width="3.8" stroke-linecap="butt"/>
<line x1="118.4" y1="829.9" x2="132.8" y2="829.9" stroke="#000" stroke-width="3.8" stroke-linecap="butt"/>
<line x1="118.4" y1="769.7" x2="132.8" y2="769.7" stroke="#000" stroke-width="3.8" stroke-linecap="butt"/>
<line x1="118.4" y1="709.5" x2="132.8" y2="709.5" stroke="#000" stroke-width="3.8" stroke-linecap="butt"/>
<text x="78.9" y="1143.2" font-size="40.5" text-anchor="start" font-weight="bold" stroke="#000" stroke-width="0.6" textLength="21.5" lengthAdjust="spacingAndGlyphs" >0</text>
<text x="78.9" y="1083.0" font-size="40.5" text-anchor="start" font-weight="bold" stroke="#000" stroke-width="0.6" textLength="21.5" lengthAdjust="spacingAndGlyphs" >2</text>
<text x="78.9" y="1022.8" font-size="40.5" text-anchor="start" font-weight="bold" stroke="#000" stroke-width="0.6" textLength="21.5" lengthAdjust="spacingAndGlyphs" >4</text>
<text x="78.9" y="962.6" font-size="40.5" text-anchor="start" font-weight="bold" stroke="#000" stroke-width="0.6" textLength="21.5" lengthAdjust="spacingAndGlyphs" >6</text>
<text x="78.9" y="902.4" font-size="40.5" text-anchor="start" font-weight="bold" stroke="#000" stroke-width="0.6" textLength="21.5" lengthAdjust="spacingAndGlyphs" >8</text>
<text x="59.4" y="842.2" font-size="40.5" text-anchor="start" font-weight="bold" stroke="#000" stroke-width="0.6" textLength="41.0" lengthAdjust="spacingAndGlyphs" >10</text>
<text x="59.4" y="782.0" font-size="40.5" text-anchor="start" font-weight="bold" stroke="#000" stroke-width="0.6" textLength="41.0" lengthAdjust="spacingAndGlyphs" >12</text>
<text x="59.9" y="721.8" font-size="40.5" text-anchor="start" font-weight="bold" stroke="#000" stroke-width="0.6" textLength="40.5" lengthAdjust="spacingAndGlyphs" >14</text>
<text x="41.0" y="1045.4" font-size="38.5" text-anchor="start" font-weight="bold" stroke="#000" stroke-width="0.6" textLength="228.8" lengthAdjust="spacingAndGlyphs" transform="rotate(-90 41.0 1045.4)" >day of onset</text>
<path d="M183.0 1130.0 L183.0 957.3 L260.0 957.3 L260.0 1130.0" fill="none" stroke="#000" stroke-width="3.7" stroke-linejoin="miter"/>
<line x1="222.1" y1="957.3" x2="222.1" y2="942.1" stroke="#000" stroke-width="3.8" stroke-linecap="butt"/>
<line x1="213.7" y1="942.1" x2="230.5" y2="942.1" stroke="#000" stroke-width="4.0" stroke-linecap="butt"/>
<path d="M312.2 1130.0 L312.2 944.9 L389.4 944.9 L389.4 1130.0" fill="none" stroke="#000" stroke-width="3.7" stroke-linejoin="miter"/>
<line x1="350.3" y1="944.9" x2="350.3" y2="934.1" stroke="#000" stroke-width="3.8" stroke-linecap="butt"/>
<line x1="341.9" y1="934.1" x2="358.7" y2="934.1" stroke="#000" stroke-width="4.0" stroke-linecap="butt"/>
<path d="M438.9 1130.0 L438.9 929.8 L516.3 929.8 L516.3 1130.0" fill="none" stroke="#000" stroke-width="3.7" stroke-linejoin="miter"/>
<line x1="477.4" y1="929.8" x2="477.4" y2="911.1" stroke="#000" stroke-width="3.8" stroke-linecap="butt"/>
<line x1="469.0" y1="911.1" x2="485.8" y2="911.1" stroke="#000" stroke-width="4.0" stroke-linecap="butt"/>
<path d="M565.9 1130.0 L565.9 778.5 L643.0 778.5 L643.0 1130.0" fill="none" stroke="#000" stroke-width="3.7" stroke-linejoin="miter"/>
<line x1="605.6" y1="778.5" x2="605.6" y2="731.0" stroke="#000" stroke-width="3.8" stroke-linecap="butt"/>
<line x1="597.2" y1="731.0" x2="614.0" y2="731.0" stroke="#000" stroke-width="4.0" stroke-linecap="butt"/>
<text x="605.6" y="730.5" font-size="40" text-anchor="middle" font-weight="bold" stroke="#000" stroke-width="0.6" >*</text>
<text x="154.4" y="1174.0" font-size="39.5" text-anchor="start" font-weight="bold" stroke="#000" stroke-width="0.6" textLength="131.0" lengthAdjust="spacingAndGlyphs" >control</text>
<text x="323.0" y="1174.0" font-size="40.5" text-anchor="start" font-weight="bold" stroke="#000" stroke-width="0.6" textLength="30.0" lengthAdjust="spacingAndGlyphs" >TI</text>
<text x="450.2" y="1174.0" font-size="40.5" text-anchor="start" font-weight="bold" stroke="#000" stroke-width="0.6" textLength="49.8" lengthAdjust="spacingAndGlyphs" >NP</text>
<text x="556.4" y="1174.0" font-size="40.5" text-anchor="start" font-weight="bold" stroke="#000" stroke-width="0.6" textLength="105.4" lengthAdjust="spacingAndGlyphs" >CNRx</text>
<line x1="325.8" y1="1184.3" x2="650.7" y2="1184.3" stroke="#000" stroke-width="5.8" stroke-linecap="round"/>
<text x="418.6" y="1228.8" font-size="40.5" text-anchor="start" font-weight="bold" stroke="#000" stroke-width="0.6" textLength="125.4" lengthAdjust="spacingAndGlyphs" >CeNPs</text>
</g>
</svg>
</body></html>
